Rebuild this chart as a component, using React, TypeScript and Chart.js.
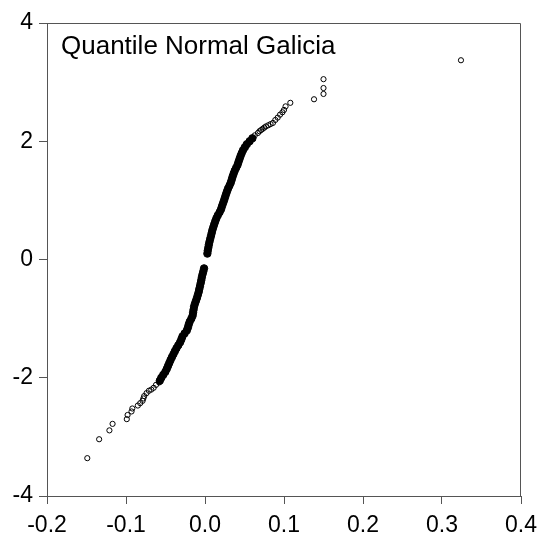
import React, { useEffect, useRef } from "react";
import { Chart, registerables } from "chart.js";

Chart.register(...registerables);

const titleText = "Quantile Normal Galicia";

const xTicks = [-0.2, -0.1, 0.0, 0.1, 0.2, 0.3, 0.4];
const yTicks = [-4, -2, 0, 2, 4];

// dense central body (overlapping markers) – theoretical normal quantile (y) vs data quantile (x)
const coreY = [
  0.10, 0.15, 0.20, 0.25, 0.30, 0.35, 0.40, 0.45, 0.50, 0.55,
  0.60, 0.65, 0.70, 0.75, 0.80, 0.85, 0.90, 0.95, 1.00, 1.05,
  1.10, 1.15, 1.20, 1.25, 1.30, 1.35, 1.40, 1.45, 1.50, 1.55,
  1.60, 1.65, 1.70, 1.75, 1.80, 1.85, 1.90, 1.95, 2.00, 2.05,
  -0.15, -0.20, -0.25, -0.30, -0.35, -0.40, -0.45, -0.50, -0.55, -0.60,
  -0.65, -0.70, -0.75, -0.80, -0.85, -0.90, -0.95, -1.00, -1.05, -1.10,
  -1.15, -1.20, -1.25, -1.30, -1.35, -1.40, -1.45, -1.50, -1.55, -1.60,
  -1.65, -1.70, -1.75, -1.80, -1.85, -1.90, -1.95, -2.00, -2.05,
];
const coreX = [
  0.0030, 0.0035, 0.0042, 0.0049, 0.0057, 0.0066, 0.0076, 0.0085, 0.0094, 0.0106,
  0.0118, 0.0131, 0.0145, 0.0163, 0.0185, 0.0203, 0.0215, 0.0228, 0.0241, 0.0253,
  0.0265, 0.0278, 0.0292, 0.0310, 0.0326, 0.0338, 0.0349, 0.0362, 0.0376, 0.0394,
  0.0412, 0.0424, 0.0437, 0.0450, 0.0465, 0.0482, 0.0505, 0.0530, 0.0565, 0.0600,
  -0.0012, -0.0021, -0.0031, -0.0040, -0.0047, -0.0055, -0.0063, -0.0072, -0.0080, -0.0091,
  -0.0102, -0.0115, -0.0128, -0.0139, -0.0145, -0.0151, -0.0157, -0.0173, -0.0193, -0.0206,
  -0.0216, -0.0230, -0.0258, -0.0285, -0.0299, -0.0315, -0.0338, -0.0361, -0.0381, -0.0399,
  -0.0418, -0.0436, -0.0452, -0.0468, -0.0484, -0.0502, -0.0528, -0.0553, -0.0572,
];

// sparse tails (individual hollow markers)
const tailY = [
  2.10, 2.14, 2.17, 2.19, 2.21, 2.23, 2.25, 2.27, 2.29, 2.31,
  2.36, 2.40, 2.45, 2.49, 2.53, 2.59, 2.65, 2.71, 2.80, 2.90,
  3.05, 3.37,
  -2.08, -2.12, -2.17, -2.20, -2.22, -2.26, -2.31, -2.35, -2.39, -2.43,
  -2.47, -2.52, -2.57, -2.63, -2.70, -2.78, -2.89, -3.04, -3.36,
];
const tailX = [
  0.063, 0.067, 0.069, 0.071, 0.073, 0.075, 0.077, 0.080, 0.083, 0.086,
  0.089, 0.092, 0.095, 0.098, 0.100, 0.102, 0.108, 0.138, 0.150, 0.150,
  0.150, 0.324,
  -0.058, -0.062, -0.065, -0.068, -0.071, -0.074, -0.077, -0.078, -0.079, -0.082,
  -0.085, -0.092, -0.093, -0.098, -0.099, -0.117, -0.121, -0.134, -0.149,
];

const FONT = "'Liberation Sans', Arial, Helvetica, sans-serif";

export default function App() {
  const ref = useRef<HTMLCanvasElement | null>(null);

  useEffect(() => {
    if (!ref.current) return;
    const frame = {
      id: "frame",
      afterDraw(chart: any) {
        const { ctx, chartArea } = chart;
        ctx.save();
        ctx.strokeStyle = "#555";
        ctx.lineWidth = 1;
        ctx.beginPath();
        const l = Math.round(chartArea.left) + 0.5;
        const r = Math.round(chartArea.right) - 0.5;
        const t = Math.round(chartArea.top) + 0.5;
        ctx.moveTo(l, t);
        ctx.lineTo(r, t);
        ctx.lineTo(r, Math.round(chartArea.bottom) + 0.5);
        ctx.stroke();
        ctx.fillStyle = "#000";
        ctx.font = `26px ${FONT}`;
        ctx.textBaseline = "alphabetic";
        ctx.textAlign = "left";
        ctx.fillText(titleText, chartArea.left + 14, chartArea.top + 31);
        ctx.restore();
      },
    };

    const chart = new Chart(ref.current, {
      type: "scatter",
      data: {
        datasets: [
          {
            label: "core",
            data: coreX.map((x, i) => ({ x, y: coreY[i] })),
            pointRadius: 3.7,
            pointBorderWidth: 1,
            borderColor: "#000",
            backgroundColor: "#000",
          },
          {
            label: "tail",
            data: tailX.map((x, i) => ({ x, y: tailY[i] })),
            pointRadius: 2.6,
            pointBorderWidth: 1,
            borderColor: "#000",
            backgroundColor: "rgba(0,0,0,0)",
          },
        ],
      },
      options: {
        animation: false,
        responsive: true,
        maintainAspectRatio: false,
        layout: { padding: { top: 23, right: 21, left: 0, bottom: 0 } },
        plugins: {
          legend: { display: false },
          tooltip: { enabled: false },
          title: { display: false },
        },
        scales: {
          x: {
            type: "linear",
            min: -0.2,
            max: 0.4,
            afterFit: (s: any) => {
              s.height = 47;
              s.paddingLeft = 0;
              s.paddingRight = 0;
              s.paddingTop = 0;
              s.paddingBottom = 0;
            },
            afterBuildTicks: (s: any) => {
              s.ticks = xTicks.map((v) => ({ value: v }));
            },
            ticks: {
              color: "#000",
              font: { family: FONT, size: 23 },
              padding: 8,
              maxRotation: 0,
              autoSkip: false,
              callback: (v: any) => Number(v).toFixed(1),
            },
            grid: {
              drawOnChartArea: false,
              drawTicks: true,
              tickLength: 8,
              color: "#555",
            },
            border: { display: true, color: "#555" },
          },
          y: {
            type: "linear",
            min: -4,
            max: 4,
            afterFit: (s: any) => {
              s.width = 47;
              s.paddingLeft = 0;
              s.paddingRight = 0;
              s.paddingTop = 0;
              s.paddingBottom = 0;
            },
            afterBuildTicks: (s: any) => {
              s.ticks = yTicks.map((v) => ({ value: v }));
            },
            ticks: {
              color: "#000",
              font: { family: FONT, size: 23 },
              padding: 6,
              autoSkip: false,
              callback: (v: any) => String(v),
            },
            grid: {
              drawOnChartArea: false,
              drawTicks: true,
              tickLength: 8,
              color: "#555",
            },
            border: { display: true, color: "#555" },
          },
        },
      },
      plugins: [frame],
    });
    return () => chart.destroy();
  }, []);

  return (
    <div
      style={{
        position: "absolute",
        left: 0,
        top: 0,
        width: "542px",
        height: "543px",
        background: "#fff",
      }}
    >
      <canvas ref={ref} />
    </div>
  );
}
